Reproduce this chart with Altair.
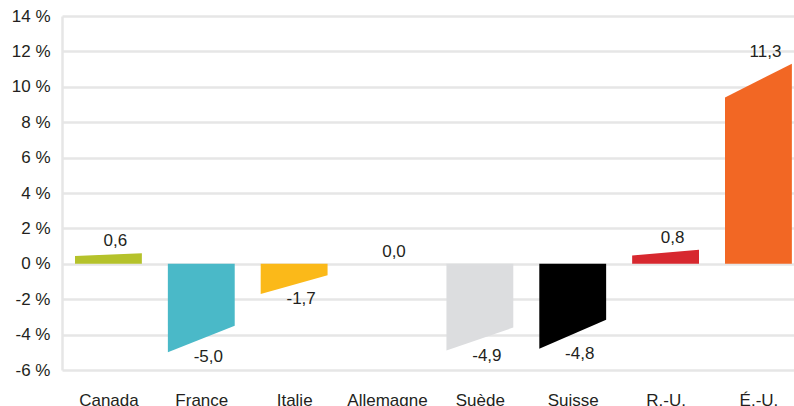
import altair as alt
import pandas as pd

# Country categories, bar colours and values (percent)
countries = ["Canada", "France", "Italie", "Allemagne", "Suède", "Suisse", "R.-U.", "É.-U."]
colors = ["#b5c22b", "#4ab9c8", "#fbb919", "#ffffff", "#dcdddf", "#000000", "#d7282f", "#f26724"]
values = [0.6, -5.0, -1.7, 0.0, -4.9, -4.8, 0.8, 11.3]
# height of the short side of each slanted bar
inner = [0.44, -3.5, -0.64, 0.0, -3.6, -3.16, 0.47, 9.4]
y_ticks = [-6, -4, -2, 0, 2, 4, 6, 8, 10, 12, 14]

HALF = 0.36  # half bar width in category units
FONT = "Liberation Sans"
FS = 17
TEXT = "#231f20"
GRID = "#e6e6e6"

# polygon corners: positive bars rise to the right, negative bars fall to the left
rows = []
for i, (c, v, s) in enumerate(zip(countries, values, inner)):
    left, right = (s, v) if v >= 0 else (v, s)
    rows.append({"country": c, "x": i - HALF, "y": left, "zero": 0})
    rows.append({"country": c, "x": i + HALF, "y": right, "zero": 0})
shapes = pd.DataFrame(rows)

labels = pd.DataFrame({
    "country": countries,
    "x": list(range(len(countries))),
    "value": values,
    "text": [f"{v:.1f}".replace(".", ",") for v in values],
})

name_expr = "[" + ",".join(f"'{c}'" for c in countries) + "][datum.value]"

x_scale = alt.Scale(domain=[-0.5, 7.383], nice=False, zero=False)
y_scale = alt.Scale(domain=[-6, 14], nice=False)

x_axis = alt.Axis(
    values=list(range(len(countries))), labelExpr=name_expr, title=None,
    grid=False, ticks=False, domain=False, labelPadding=22, labelOverlap=False,
    labelFont=FONT, labelFontSize=FS, labelColor=TEXT,
)
y_axis = alt.Axis(
    values=y_ticks, labelExpr="datum.value + ' %'", title=None,
    grid=True, gridColor=GRID, gridWidth=2.5, ticks=False, labelOverlap=False,
    domain=True, domainColor=GRID, domainWidth=2.5, labelPadding=12,
    labelFont=FONT, labelFontSize=FS, labelColor=TEXT,
)

bars = alt.Chart(shapes).mark_area(interpolate="linear", opacity=1).encode(
    x=alt.X("x:Q", scale=x_scale, axis=x_axis),
    y=alt.Y("y:Q", scale=y_scale, axis=y_axis, stack=None),
    y2="zero:Q",
    color=alt.Color("country:N", scale=alt.Scale(domain=countries, range=colors), legend=None),
    detail="country:N",
)

text_base = alt.Chart(labels).encode(
    x=alt.X("x:Q", scale=x_scale, axis=x_axis),
    y=alt.Y("value:Q", scale=y_scale, axis=y_axis),
    text="text:N",
)
pos_text = text_base.transform_filter("datum.value >= 0").mark_text(
    font=FONT, fontSize=FS, color=TEXT, dx=7, dy=-12, baseline="middle"
)
neg_text = text_base.transform_filter("datum.value < 0").mark_text(
    font=FONT, fontSize=FS, color=TEXT, dx=7, dy=5, baseline="middle"
)

chart = alt.layer(bars, pos_text, neg_text).properties(
    width=732, height=354,
    autosize=alt.AutoSizeParams(type="none"),
    padding={"left": 62, "top": 16, "right": 0, "bottom": 36},
    background="#ffffff",
).configure_view(stroke=None)

chart.save("out.html", embed_options={"renderer": "svg", "actions": False})
